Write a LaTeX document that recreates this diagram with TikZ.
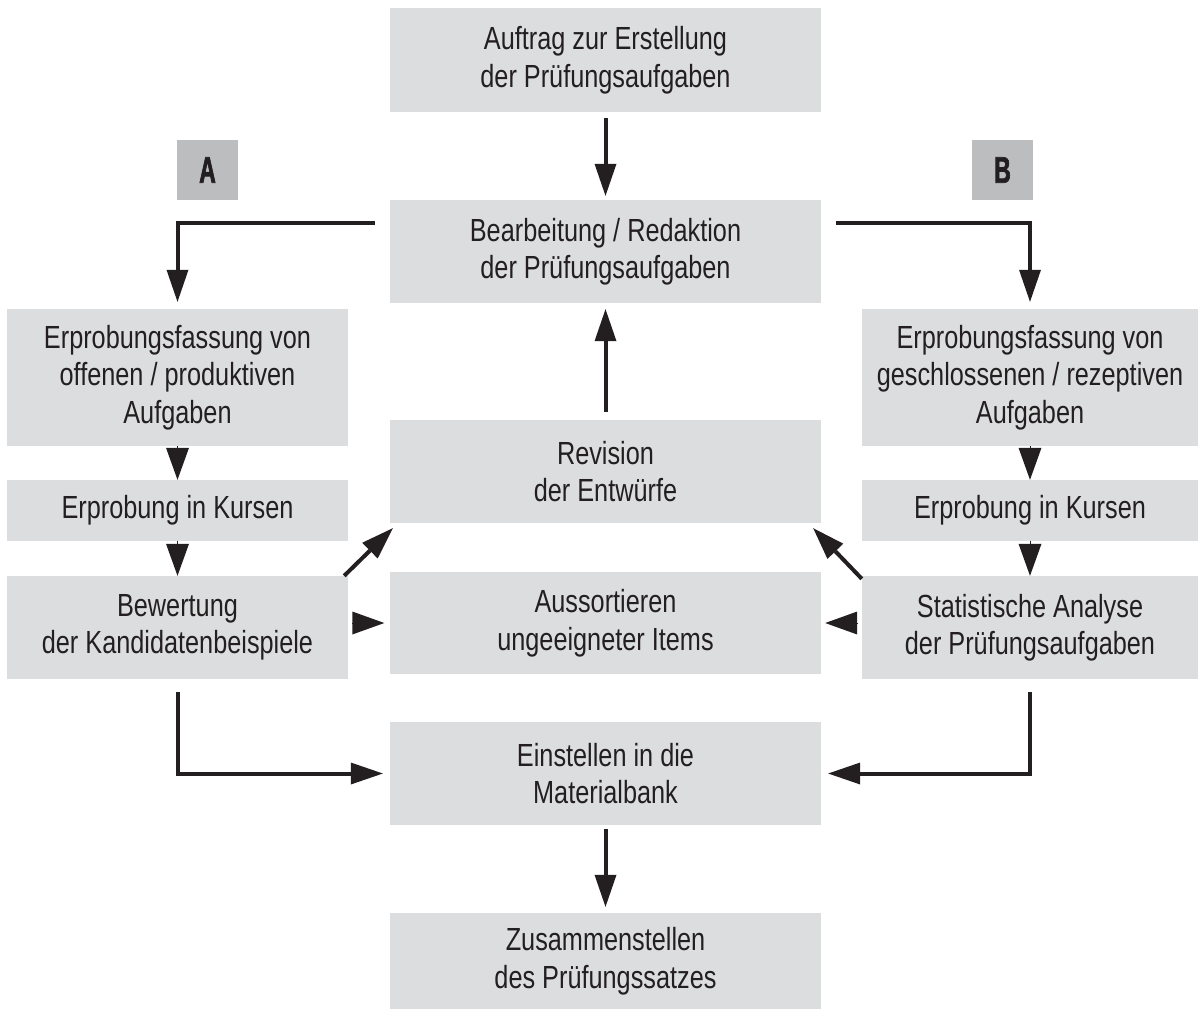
\documentclass[tikz,border=0pt]{standalone}
\usepackage{fontspec}
\setmainfont[FakeStretch=0.79]{Liberation Sans}
\newfontfamily\abfont[FakeStretch=0.62,FakeBold=1.8]{Liberation Sans Bold}
\usetikzlibrary{arrows.meta}
\definecolor{boxgray}{HTML}{DCDDDE}
\definecolor{abgray}{HTML}{BCBDBF}
\definecolor{ink}{HTML}{231F20}
\tikzset{
  box/.style={fill=boxgray, inner sep=0pt, align=center, text=ink,
    font=\fontsize{32}{37.5}\selectfont},
  conn/.style={draw=ink, line width=4pt,
    -{Triangle[length=32pt,width=22pt,line width=0pt]}},
  tri/.style={draw=ink, line width=0.5pt,
    -{Triangle[length=32pt,width=23pt,line width=0pt]}},
  abbox/.style={fill=abgray, inner sep=0pt, minimum width=61pt, minimum height=60pt,
    text=ink, font=\abfont\fontsize{37}{37}\selectfont}
}
\begin{document}
\begin{tikzpicture}[x=1pt,y=-1pt]
\useasboundingbox (0,0) rectangle (1198,1010);
% centre column
\node[box, minimum width=431pt, minimum height=104pt] (auftrag) at (605.5,60) {Auftrag zur Erstellung\\der Prüfungsaufgaben};
\node[box, minimum width=431pt, minimum height=103pt] (bearb) at (605.5,251.5) {Bearbeitung / Redaktion\\der Prüfungsaufgaben};
\node[box, minimum width=431pt, minimum height=103pt] (revision) at (605.5,471.5) {Revision\\der Entwürfe};
\node[box, minimum width=431pt, minimum height=102pt] (aussort) at (605.5,623) {Aussortieren\\ungeeigneter Items};
\node[box, minimum width=431pt, minimum height=103pt] (einst) at (605.5,773.5) {Einstellen in die\\Materialbank};
\node[box, minimum width=431pt, minimum height=96pt] (zus) at (605.5,961) {Zusammenstellen\\des Prüfungssatzes};
% left column
\node[box, minimum width=341pt, minimum height=137pt] (lf1) at (177.5,377.5) {Erprobungsfassung von\\offenen / produktiven\\Aufgaben};
\node[box, minimum width=341pt, minimum height=61pt] (lf2) at (177.5,510.5) {Erprobung in Kursen};
\node[box, minimum width=341pt, minimum height=103pt] (lf3) at (177.5,627.5) {Bewertung\\der Kandidatenbeispiele};
% right column
\node[box, minimum width=336pt, minimum height=137pt] (rf1) at (1030,377.5) {Erprobungsfassung von\\geschlossenen / rezeptiven\\Aufgaben};
\node[box, minimum width=336pt, minimum height=61pt] (rf2) at (1030,510.5) {Erprobung in Kursen};
\node[box, minimum width=336pt, minimum height=103pt] (rf3) at (1030,627.5) {Statistische Analyse\\der Prüfungsaufgaben};
% labels A and B
\node[abbox] (labA) at (207.5,170) {A};
\node[abbox] (labB) at (1002.5,170) {B};
% connectors
\draw[conn, shorten <=6pt, shorten >=4pt] (auftrag) -- (bearb);
\draw[conn, shorten <=8pt, shorten >=6pt] (revision) -- (bearb);
\draw[conn, shorten <=4pt, shorten >=6pt] (einst) -- (zus);
\draw[conn, shorten >=7pt] ([shift={(-15,23)}]bearb.north west) -| (lf1.north);
\draw[conn, shorten >=7pt] ([shift={(15,23)}]bearb.north east) -| (rf1.north);
\draw[conn, shorten <=13pt, shorten >=7pt] (lf3.south) |- (einst.west);
\draw[conn, shorten <=13pt, shorten >=7pt] (rf3.south) |- (einst.east);
\draw[conn] ([xshift=-4pt]lf3.north east) -- ([shift={(3,5)}]revision.south west);
\draw[conn] ([shift={(0,3)}]rf3.north west) -- ([shift={(-8,5)}]revision.south east);
% plain triangles
\draw[tri] (lf1) -- (lf2);
\draw[tri] (lf2) -- (lf3);
\draw[tri] (rf1) -- (rf2);
\draw[tri] (rf2) -- (rf3);
\draw[tri, shorten <=4pt, shorten >=5.5pt] (lf3.east |- aussort.west) -- (aussort.west);
\draw[tri, shorten <=4pt, shorten >=4pt] (rf3.west |- aussort.east) -- (aussort.east);
\end{tikzpicture}
\end{document}
